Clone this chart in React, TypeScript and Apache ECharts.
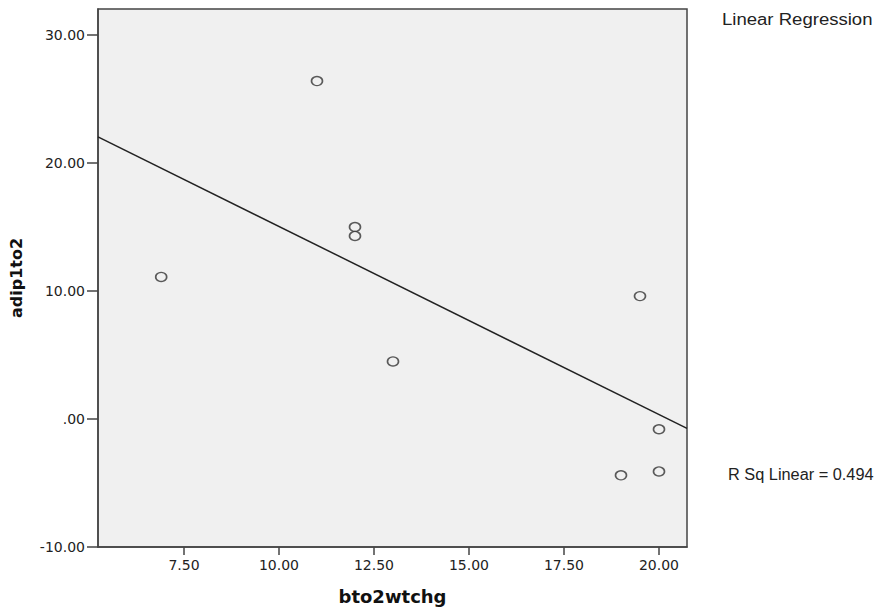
import React, { useEffect, useRef } from "react";
import * as echarts from "echarts";

const xValues = [6.9, 11.0, 12.0, 12.0, 13.0, 19.5, 20.0, 20.0, 19.0];
const yValues = [11.1, 26.4, 15.0, 14.3, 4.5, 9.6, -0.8, -4.1, -4.4];
const xTicks = [7.5, 10, 12.5, 15, 17.5, 20];
const yTicks = [-10, 0, 10, 20, 30];
const xRange = [5.237, 20.737];
const yRange = [-10, 32.03];
const xTitle = "bto2wtchg";
const yTitle = "adip1to2";
const legendTitle = "Linear Regression";

function fit(xs: number[], ys: number[]) {
  const n = xs.length;
  const mx = xs.reduce((a, b) => a + b, 0) / n;
  const my = ys.reduce((a, b) => a + b, 0) / n;
  let sxy = 0, sxx = 0, syy = 0;
  for (let i = 0; i < n; i++) {
    sxy += (xs[i] - mx) * (ys[i] - my);
    sxx += (xs[i] - mx) ** 2;
    syy += (ys[i] - my) ** 2;
  }
  const slope = sxy / sxx;
  return { slope, intercept: my - slope * mx, r2: (sxy * sxy) / (sxx * syy) };
}

const fmt = (v: number) => (v === 0 ? ".00" : v.toFixed(2));

export default function App() {
  const ref = useRef<HTMLDivElement>(null);
  useEffect(() => {
    if (!ref.current) return;
    const chart = echarts.init(ref.current, null, { renderer: "svg" });
    const { slope, intercept, r2 } = fit(xValues, yValues);
    const font = "Liberation Sans, Arial, sans-serif";
    const wide = "DejaVu Sans, sans-serif";
    chart.setOption({
      animation: false,
      grid: {
        left: 97,
        top: 9,
        width: 590,
        height: 538,
        show: true,
        backgroundColor: "#f0f0f0",
        borderColor: "#444",
        borderWidth: 1.5,
      },
      xAxis: {
        type: "value",
        min: xRange[0],
        max: xRange[1],
        name: xTitle,
        nameLocation: "middle",
        nameGap: 40,
        nameTextStyle: { fontFamily: wide, fontSize: 18, fontWeight: "bold", color: "#111" },
        splitLine: { show: false },
        axisLine: { show: true, onZero: false, lineStyle: { color: "#444", width: 1.5 } },
        axisTick: { show: true, length: 8, customValues: xTicks, lineStyle: { color: "#444", width: 1.5 } },
        axisLabel: {
          customValues: xTicks,
          formatter: (v: number) => fmt(v),
          fontFamily: wide,
          fontSize: 14,
          color: "#222",
          margin: 11,
        },
      },
      yAxis: {
        type: "value",
        min: yRange[0],
        max: yRange[1],
        name: yTitle,
        nameLocation: "middle",
        nameRotate: 90,
        nameGap: 74,
        nameTextStyle: { fontFamily: wide, fontSize: 16, fontWeight: "bold", color: "#111" },
        splitLine: { show: false },
        axisLine: { show: true, onZero: false, lineStyle: { color: "#444", width: 1.5 } },
        axisTick: { show: true, length: 11, customValues: yTicks, lineStyle: { color: "#444", width: 1.5 } },
        axisLabel: {
          customValues: yTicks,
          formatter: (v: number) => fmt(v),
          fontFamily: wide,
          fontSize: 14,
          color: "#222",
          margin: 13,
        },
      },
      series: [
        {
          type: "line",
          data: [
            [xRange[0], intercept + slope * xRange[0]],
            [xRange[1], intercept + slope * xRange[1]],
          ],
          showSymbol: false,
          symbol: "none",
          lineStyle: { color: "#222", width: 1.5 },
          z: 2,
        },
        {
          type: "scatter",
          data: xValues.map((x, i) => [x, yValues[i]]),
          symbol: "circle",
          symbolSize: [11, 9],
          itemStyle: { color: "#f0f0f0", borderColor: "#333", borderWidth: 1.5 },
          z: 3,
        },
      ],
      graphic: [
        {
          type: "text",
          x: 722,
          y: 11,
          scaleX: 1.16,
          style: { text: legendTitle, fontFamily: font, fontSize: 16, fill: "#222" },
        },
        {
          type: "text",
          x: 728,
          y: 466,
          scaleX: 1.02,
          style: { text: `R Sq Linear = ${r2.toFixed(3)}`, fontFamily: font, fontSize: 16, fill: "#222" },
        },
      ],
    });
    return () => chart.dispose();
  }, []);
  return (
    <div
      ref={ref}
      style={{ position: "fixed", left: 0, top: 0, width: 882, height: 612, background: "#fff" }}
    />
  );
}
